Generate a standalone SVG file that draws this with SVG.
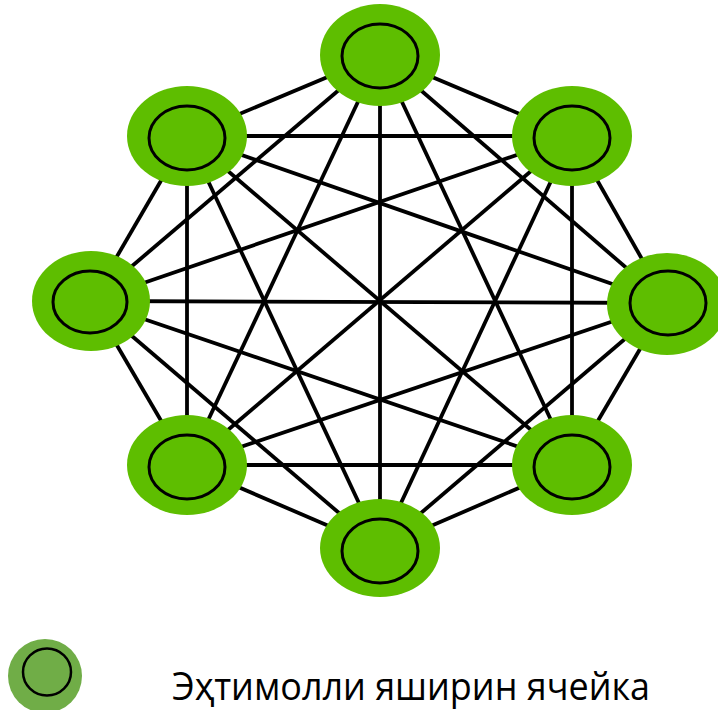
<svg xmlns="http://www.w3.org/2000/svg" width="718" height="710" viewBox="0 0 718 710">
<style>
.e line{stroke:#000;stroke-width:3.8}
.o{fill:#5EBE00}
.i{fill:none;stroke:#000;stroke-width:3}
.t{font-family:"Open Sans","Liberation Sans",sans-serif;font-size:38px;fill:#000}
</style>
<rect width="718" height="710" fill="#fff"/>
<g class="e" id="connectors">
<line x1="380" y1="55" x2="572" y2="136"/><line x1="380" y1="55" x2="667" y2="303"/><line x1="380" y1="55" x2="572" y2="465"/><line x1="380" y1="55" x2="380" y2="548"/><line x1="380" y1="55" x2="187" y2="465"/><line x1="380" y1="55" x2="91" y2="301"/><line x1="380" y1="55" x2="187" y2="136"/>
<line x1="572" y1="136" x2="667" y2="303"/><line x1="572" y1="136" x2="572" y2="465"/><line x1="572" y1="136" x2="380" y2="548"/><line x1="572" y1="136" x2="187" y2="465"/><line x1="572" y1="136" x2="91" y2="301"/><line x1="572" y1="136" x2="187" y2="136"/>
<line x1="667" y1="303" x2="572" y2="465"/><line x1="667" y1="303" x2="380" y2="548"/><line x1="667" y1="303" x2="187" y2="465"/><line x1="667" y1="303" x2="91" y2="301"/><line x1="667" y1="303" x2="187" y2="136"/>
<line x1="572" y1="465" x2="380" y2="548"/><line x1="572" y1="465" x2="187" y2="465"/><line x1="572" y1="465" x2="91" y2="301"/><line x1="572" y1="465" x2="187" y2="136"/>
<line x1="380" y1="548" x2="187" y2="465"/><line x1="380" y1="548" x2="91" y2="301"/><line x1="380" y1="548" x2="187" y2="136"/>
<line x1="187" y1="465" x2="91" y2="301"/><line x1="187" y1="465" x2="187" y2="136"/>
<line x1="91" y1="301" x2="187" y2="136"/>
</g>
<g id="n1"><ellipse class="o" cx="380" cy="55" rx="60" ry="51"/><ellipse class="i" cx="380" cy="56" rx="38" ry="32"/></g>
<g id="n2"><ellipse class="o" cx="572" cy="136" rx="60" ry="50"/><ellipse class="i" cx="572" cy="138" rx="38" ry="32"/></g>
<g id="n3"><ellipse class="o" cx="667" cy="304" rx="60" ry="51"/><ellipse class="i" cx="668" cy="303" rx="38" ry="32"/></g>
<g id="n4"><ellipse class="o" cx="572" cy="465" rx="60" ry="50"/><ellipse class="i" cx="572" cy="467" rx="38" ry="32"/></g>
<g id="n5"><ellipse class="o" cx="380" cy="548" rx="60" ry="49"/><ellipse class="i" cx="380" cy="551" rx="38" ry="32"/></g>
<g id="n6"><ellipse class="o" cx="187" cy="465" rx="60" ry="50"/><ellipse class="i" cx="187" cy="467" rx="38" ry="32"/></g>
<g id="n7"><ellipse class="o" cx="91" cy="301" rx="59" ry="50"/><ellipse class="i" cx="90" cy="302" rx="37" ry="31"/></g>
<g id="n8"><ellipse class="o" cx="187" cy="136" rx="60" ry="50"/><ellipse class="i" cx="187" cy="138" rx="38" ry="32"/></g>
<g id="legend">
<ellipse cx="45" cy="676" rx="37" ry="37" fill="#70AD47"/>
<ellipse cx="47" cy="672" rx="24" ry="23.5" fill="none" stroke="#000" stroke-width="2.5"/>
<text class="t" x="172" y="700" textLength="478" lengthAdjust="spacingAndGlyphs">Эҳтимолли яширин ячейка</text>
</g>
</svg>
